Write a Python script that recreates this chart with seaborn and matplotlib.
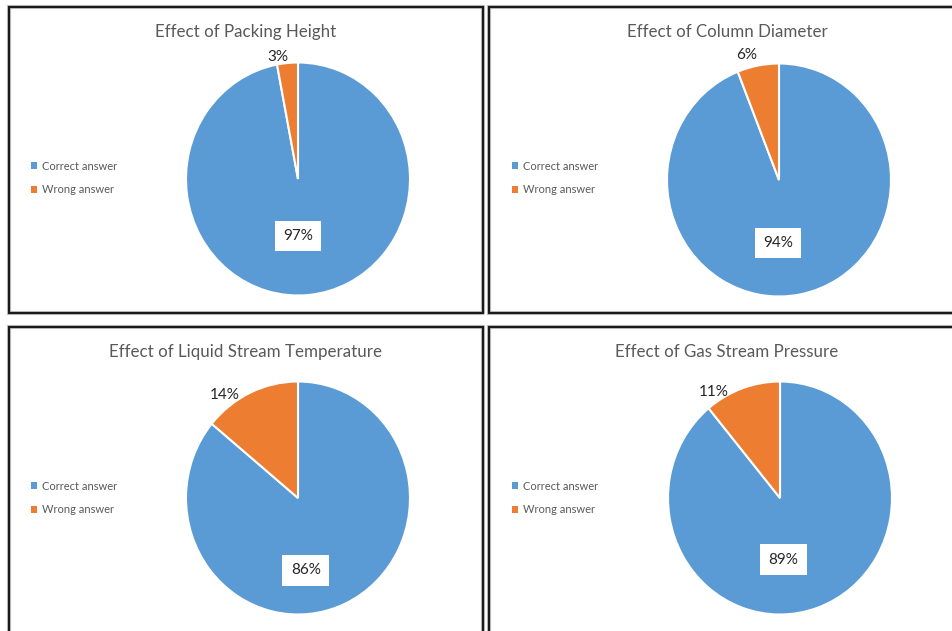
import matplotlib
matplotlib.use("Agg")
import matplotlib.pyplot as plt
from matplotlib.lines import Line2D
from matplotlib.patches import Patch
import seaborn as sns

# Survey results per question
titles = [
    "Effect of Packing Height",
    "Effect of Column Diameter",
    "Effect of Liquid Stream Temperature",
    "Effect of Gas Stream Pressure",
]
categories = ["Correct answer", "Wrong answer"]
correct_pct = [97, 94, 86, 89]
wrong_pct = [3, 6, 14, 11]

# Layout (pixels): panel frames (left, top, right, bottom) and pie centres
W, H = 953, 631
panel_edges = [(9, 7, 483, 313), (489, 7, 953, 313), (9, 327, 483, 631), (489, 327, 953, 631)]
pie_centres = [(298, 179), (779, 180), (298, 498), (780, 498)]
pie_rx, pie_ry = 112, 116.5
title_centres = [(246, 32), (727, 32), (246, 352), (727, 352)]
legend_anchor = [(25, 178), (506, 178), (25, 498), (506, 498)]
# label positions in radius units relative to the pie centre
inner_pos = [(0.0, -0.49), (-0.01, -0.54), (0.07, -0.62), (0.03, -0.53)]
outer_pos = [(-0.18, 1.05), (-0.29, 1.07), (-0.65, 0.88), (-0.59, 0.91)]

sns.set_theme(style="white")
plt.rcParams["font.family"] = ["Lato", "DejaVu Sans"]
palette = sns.color_palette(["#5B9BD5", "#ED7D31"])

fig = plt.figure(figsize=(W / 100, H / 100), dpi=100)
fig.patch.set_facecolor("white")


def fx(px):
    return px / W


def fy(py):
    return 1 - py / H


def frame(left, top, right, bottom):
    # outline the panel, leaving open any side that runs off the canvas
    xs, ys = [], []
    pts = []
    if right < W:
        pts = [(right, bottom), (right, top)]
    else:
        pts = [(right, top)]
    pts += [(left, top), (left, bottom)]
    if bottom < H:
        pts += [(right, bottom)]
    xs = [fx(p[0]) for p in pts]
    ys = [fy(p[1]) for p in pts]
    for col, lw, z in (("#c8c8c8", 3.0, 0), ("#1a1a1a", 1.6, 1)):
        fig.add_artist(Line2D(xs, ys, transform=fig.transFigure, color=col,
                              linewidth=lw, solid_joinstyle="miter", zorder=z))


for i in range(4):
    frame(*panel_edges[i])

    cx, cy = pie_centres[i]
    ax = fig.add_axes([fx(cx - pie_rx), fy(cy + pie_ry), 2 * pie_rx / W, 2 * pie_ry / H])
    values = [correct_pct[i], wrong_pct[i]]
    wedges, _ = ax.pie(values, colors=palette, startangle=90, counterclock=False,
                       radius=1.0, wedgeprops=dict(edgecolor="white", linewidth=1.5))
    ax.set_aspect("auto")
    ax.set_xlim(-1, 1)
    ax.set_ylim(-1, 1)
    ax.axis("off")

    ix, iy = inner_pos[i]
    ax.text(ix, iy, f"{correct_pct[i]}%", ha="center", va="center", fontsize=11,
            color="#262626",
            bbox=dict(boxstyle="square,pad=0.55", fc="white", ec="none"))
    ox, oy = outer_pos[i]
    ax.text(ox, oy, f"{wrong_pct[i]}%", ha="center", va="center", fontsize=11,
            color="#262626", clip_on=False)

    tx, ty = title_centres[i]
    fig.text(fx(tx), fy(ty), titles[i], ha="center", va="center", fontsize=12.2,
             color="#595959")

    handles = [Patch(facecolor=c, edgecolor="none") for c in palette]
    lx, ly = legend_anchor[i]
    ax.legend(handles, categories, loc="center left", bbox_to_anchor=(fx(lx), fy(ly)),
              bbox_transform=fig.transFigure, frameon=False, fontsize=8,
              handlelength=0.55, handleheight=0.55, handletextpad=0.5,
              labelspacing=1.15, labelcolor="#595959", borderpad=0)

fig.savefig("out.png", dpi=100, facecolor="white")
